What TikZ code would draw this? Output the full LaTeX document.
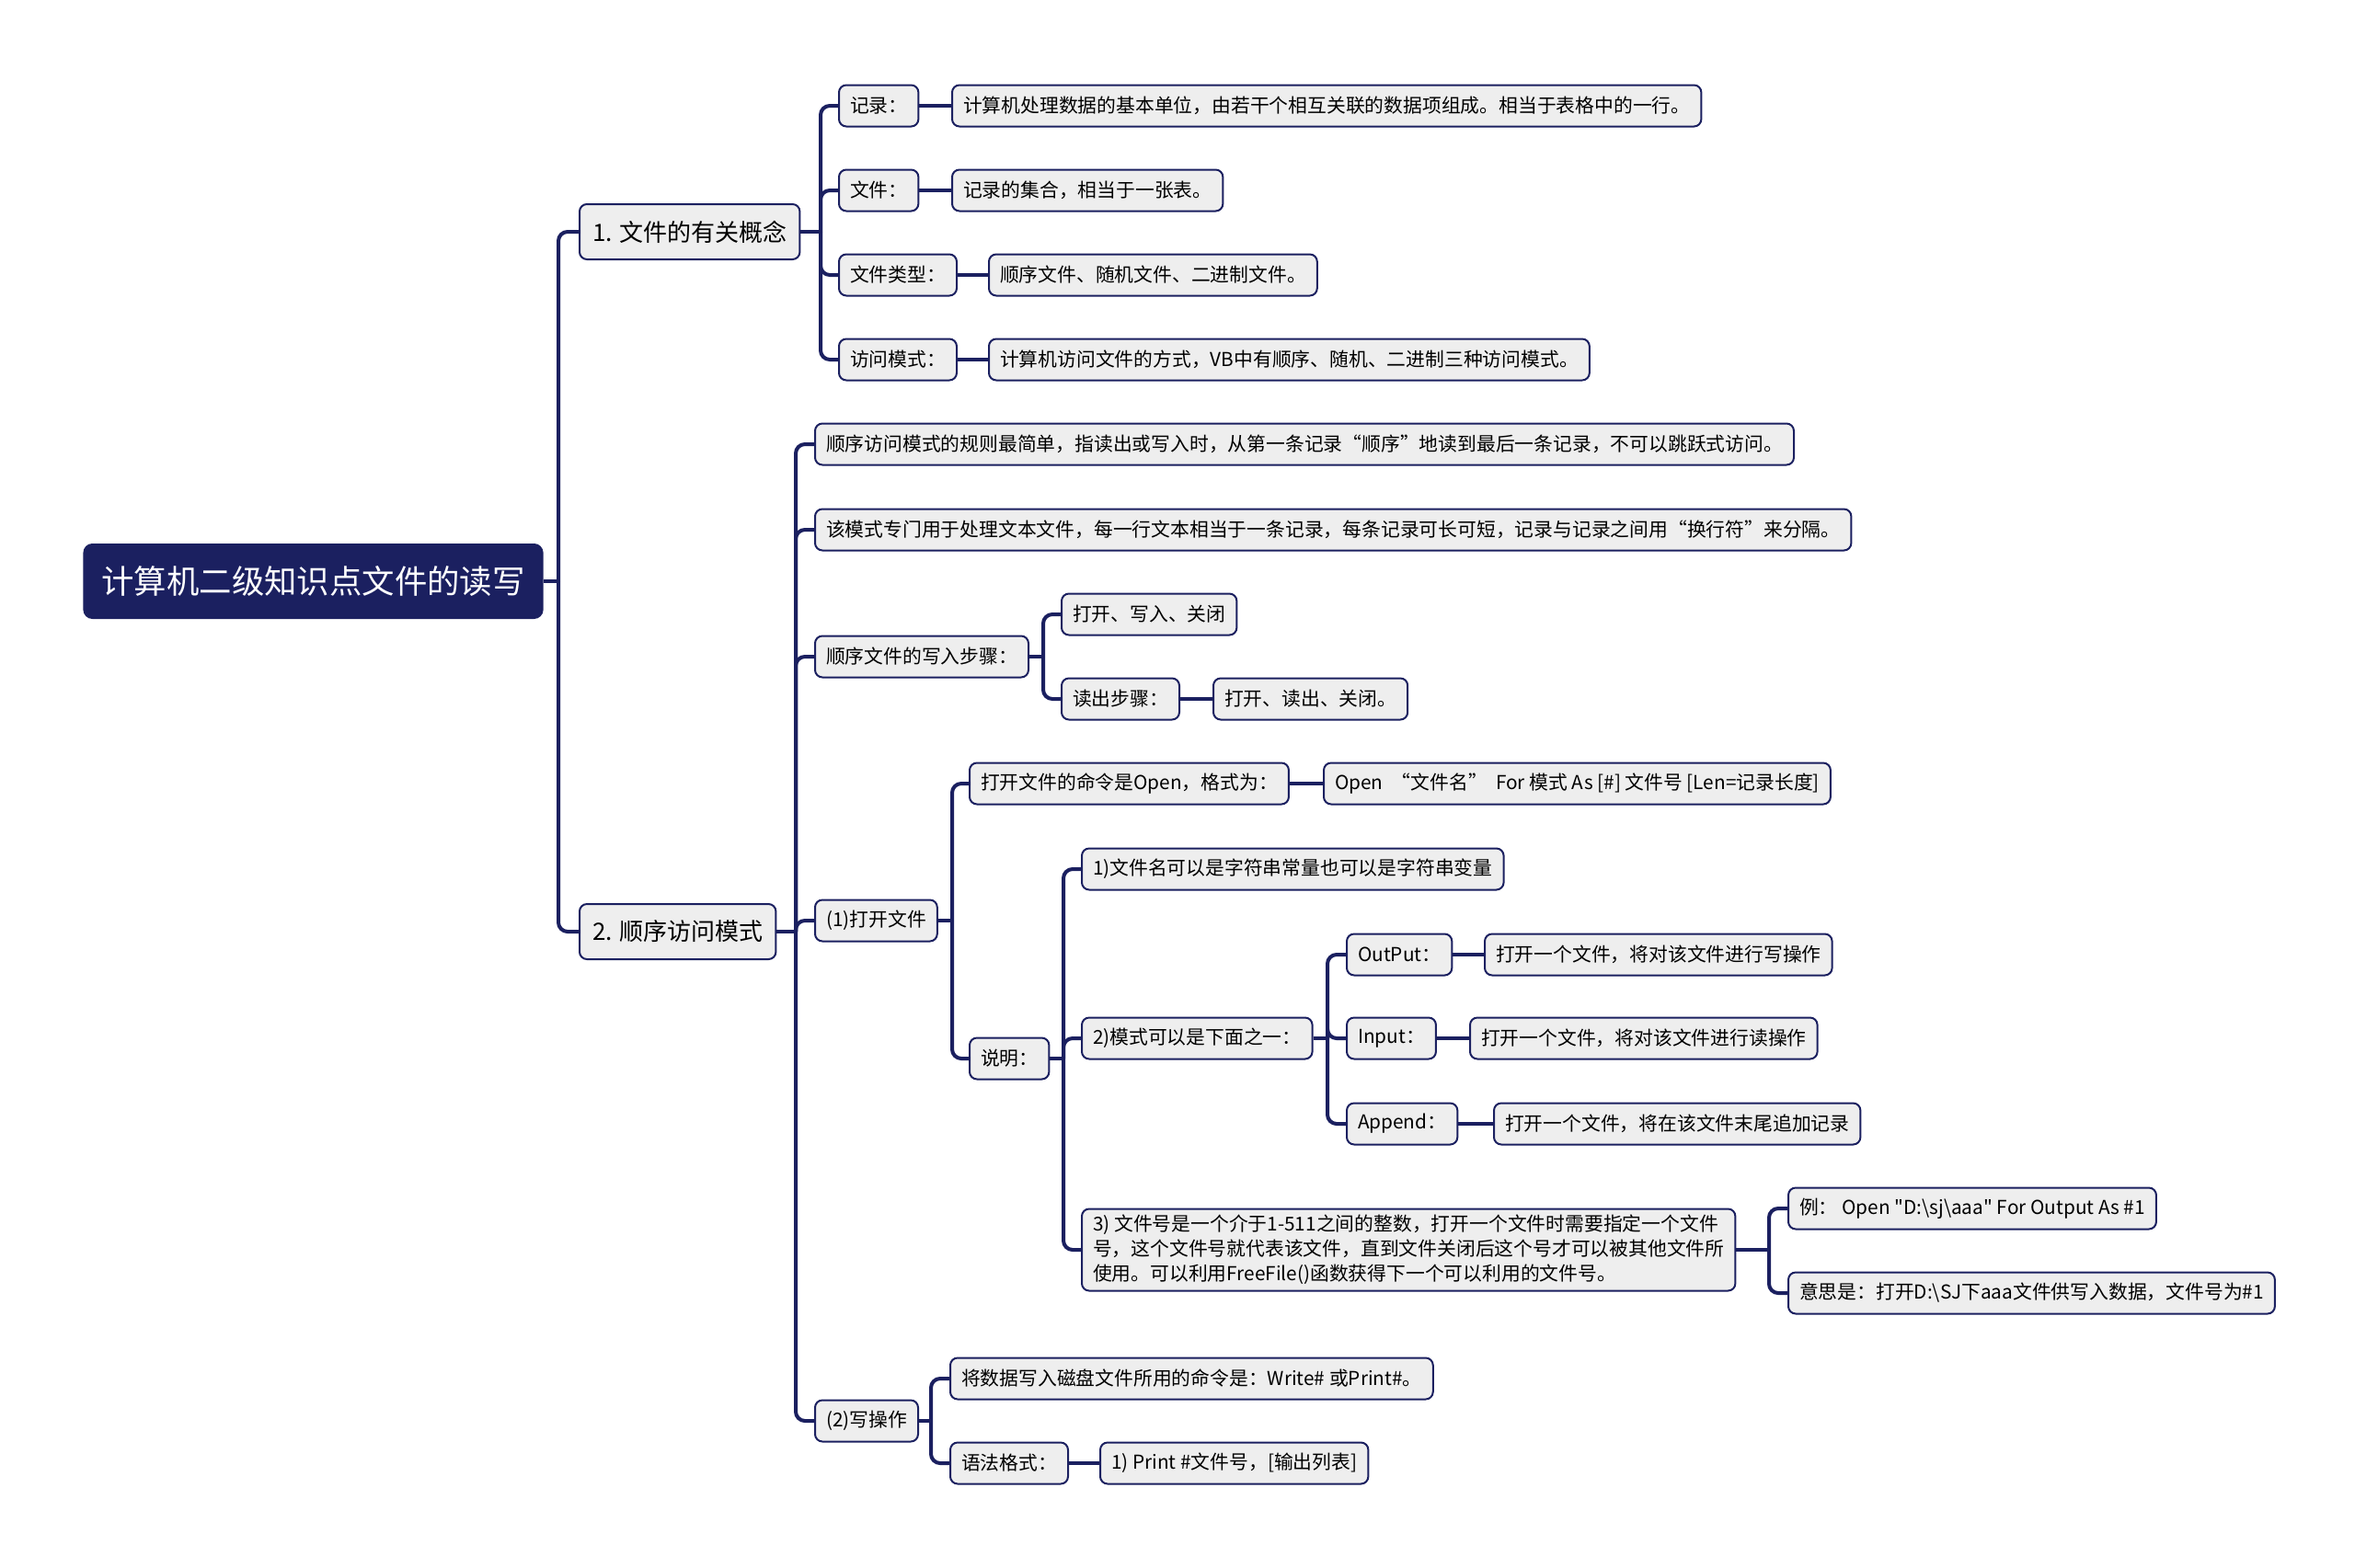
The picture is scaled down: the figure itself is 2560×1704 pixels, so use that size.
\documentclass[tikz,border=0pt]{standalone}
\usepackage{fontspec}
\setmainfont{Noto Sans CJK SC}[Ligatures=TeXOff]
\usepackage{tikz}
\definecolor{navy}{RGB}{27,32,96}
\definecolor{boxgray}{RGB}{238,238,238}
\tikzset{
	box/.style={draw=navy, line width=1pt, fill=boxgray, rounded corners=4pt, anchor=west,
		font=\fontsize{10.4}{13.5}\selectfont, minimum height=22.5pt, inner xsep=6pt, align=left},
	mainbox/.style={box, font=\fontsize{13}{16}\selectfont, minimum height=30pt, inner xsep=7pt},
	rootbox/.style={fill=navy, text=white, rounded corners=5pt, anchor=west,
		font=\fontsize{17.7}{21}\selectfont, minimum height=41pt, inner xsep=10pt},
	link/.style={draw=navy, line width=2pt, rounded corners=5pt}
}

\begin{document}
\begin{tikzpicture}[x=0.5pt, y=-0.5pt]
	\useasboundingbox (0,0) rectangle (2560,1704);

	\node[rootbox] (root) at (90,632) {计算机二级知识点文件的读写};
	\node[mainbox] (n1) at (629,252) {1. 文件的有关概念};
	\node[mainbox] (n2) at (629,1013) {2. 顺序访问模式};

	% 1. concepts
	\node[box] (rec) at (911,115) {记录：};
	\node[box] (recv) at (1034,115) {计算机处理数据的基本单位，由若干个相互关联的数据项组成。相当于表格中的一行。};
	\node[box] (fil) at (911,207) {文件：};
	\node[box] (filv) at (1034,207) {记录的集合，相当于一张表。};
	\node[box] (typ) at (911,299) {文件类型：};
	\node[box] (typv) at (1074,299) {顺序文件、随机文件、二进制文件。};
	\node[box] (acc) at (911,391) {访问模式：};
	\node[box] (accv) at (1074,391) {计算机访问文件的方式，VB中有顺序、随机、二进制三种访问模式。};

	% 2. sequential access
	\node[box] (rule) at (885,483) {顺序访问模式的规则最简单，指读出或写入时，从第一条记录“顺序”地读到最后一条记录，不可以跳跃式访问。};
	\node[box] (txt) at (885,576) {该模式专门用于处理文本文件，每一行文本相当于一条记录，每条记录可长可短，记录与记录之间用“换行符”来分隔。};
	\node[box] (wsteps) at (885,714) {顺序文件的写入步骤：};
	\node[box] (wv) at (1153,668) {打开、写入、关闭};
	\node[box] (rd) at (1153,760) {读出步骤：};
	\node[box] (rdv) at (1318,760) {打开、读出、关闭。};

	\node[box] (open) at (885,1001) {(1)打开文件};
	\node[box] (cmd) at (1053,852) {打开文件的命令是Open，格式为：};
	\node[box] (cmdv) at (1438,852) {Open \ “文件名” \ For 模式 As [\#] 文件号 [Len=记录长度]};
	\node[box] (note) at (1053,1151) {说明：};
	\node[box] (fname) at (1175,945) {1)文件名可以是字符串常量也可以是字符串变量};
	\node[box] (mode) at (1175,1129) {2)模式可以是下面之一：};
	\node[box] (out) at (1463,1038) {OutPut：};
	\node[box] (outv) at (1613,1038) {打开一个文件，将对该文件进行写操作};
	\node[box] (inp) at (1463,1129) {Input：};
	\node[box] (inpv) at (1597,1129) {打开一个文件，将对该文件进行读操作};
	\node[box] (app) at (1463,1222) {Append：};
	\node[box] (appv) at (1623,1222) {打开一个文件，将在该文件末尾追加记录};
	\node[box] (num) at (1175,1359) {3) 文件号是一个介于1-511之间的整数，打开一个文件时需要指定一个文件\\号，这个文件号就代表该文件，直到文件关闭后这个号才可以被其他文件所\\使用。可以利用FreeFile()函数获得下一个可以利用的文件号。};
	\node[box] (ex) at (1943,1314) {例：\ Open "D:\textbackslash sj\textbackslash aaa" For Output As \#1};
	\node[box] (mean) at (1943,1406) {意思是：打开D:\textbackslash SJ下aaa文件供写入数据，文件号为\#1};

	\node[box] (write) at (885,1545) {(2)写操作};
	\node[box] (wcmd) at (1032,1499) {将数据写入磁盘文件所用的命令是：Write\# 或Print\#。};
	\node[box] (syn) at (1032,1591) {语法格式：};
	\node[box] (synv) at (1195,1591) {1) Print \#文件号，[输出列表]};

	% junctions
	\coordinate (j0) at (607,632);
	\coordinate (j1) at (892,252);
	\coordinate (j2) at (865,1013);
	\coordinate (jw) at (1134,714);
	\coordinate (jo) at (1035,1001);
	\coordinate (jn) at (1156,1151);
	\coordinate (jm) at (1443,1129);
	\coordinate (jx) at (1923,1359);
	\coordinate (jr) at (1012,1545);

	% connectors
	\draw[link] (root.east) -- (j0);
	\foreach \c in {n1,n2} \draw[link] (j0) |- (\c.west);
	\draw[link] (n1.east) -- (j1);
	\foreach \c in {rec,fil,typ,acc} \draw[link] (j1) |- (\c.west);
	\draw[link] (n2.east) -- (j2);
	\foreach \c in {rule,txt,wsteps,open,write} \draw[link] (j2) |- (\c.west);
	\draw[link] (wsteps.east) -- (jw);
	\foreach \c in {wv,rd} \draw[link] (jw) |- (\c.west);
	\draw[link] (open.east) -- (jo);
	\foreach \c in {cmd,note} \draw[link] (jo) |- (\c.west);
	\draw[link] (note.east) -- (jn);
	\foreach \c in {fname,mode,num} \draw[link] (jn) |- (\c.west);
	\draw[link] (mode.east) -- (jm);
	\foreach \c in {out,inp,app} \draw[link] (jm) |- (\c.west);
	\draw[link] (num.east) -- (jx);
	\foreach \c in {ex,mean} \draw[link] (jx) |- (\c.west);
	\draw[link] (write.east) -- (jr);
	\foreach \c in {wcmd,syn} \draw[link] (jr) |- (\c.west);

	\foreach \a/\b in {rec/recv,fil/filv,typ/typv,acc/accv,rd/rdv,cmd/cmdv,out/outv,inp/inpv,app/appv,syn/synv}
		\draw[link] (\a.east) -- (\b.west);
\end{tikzpicture}
\end{document}
